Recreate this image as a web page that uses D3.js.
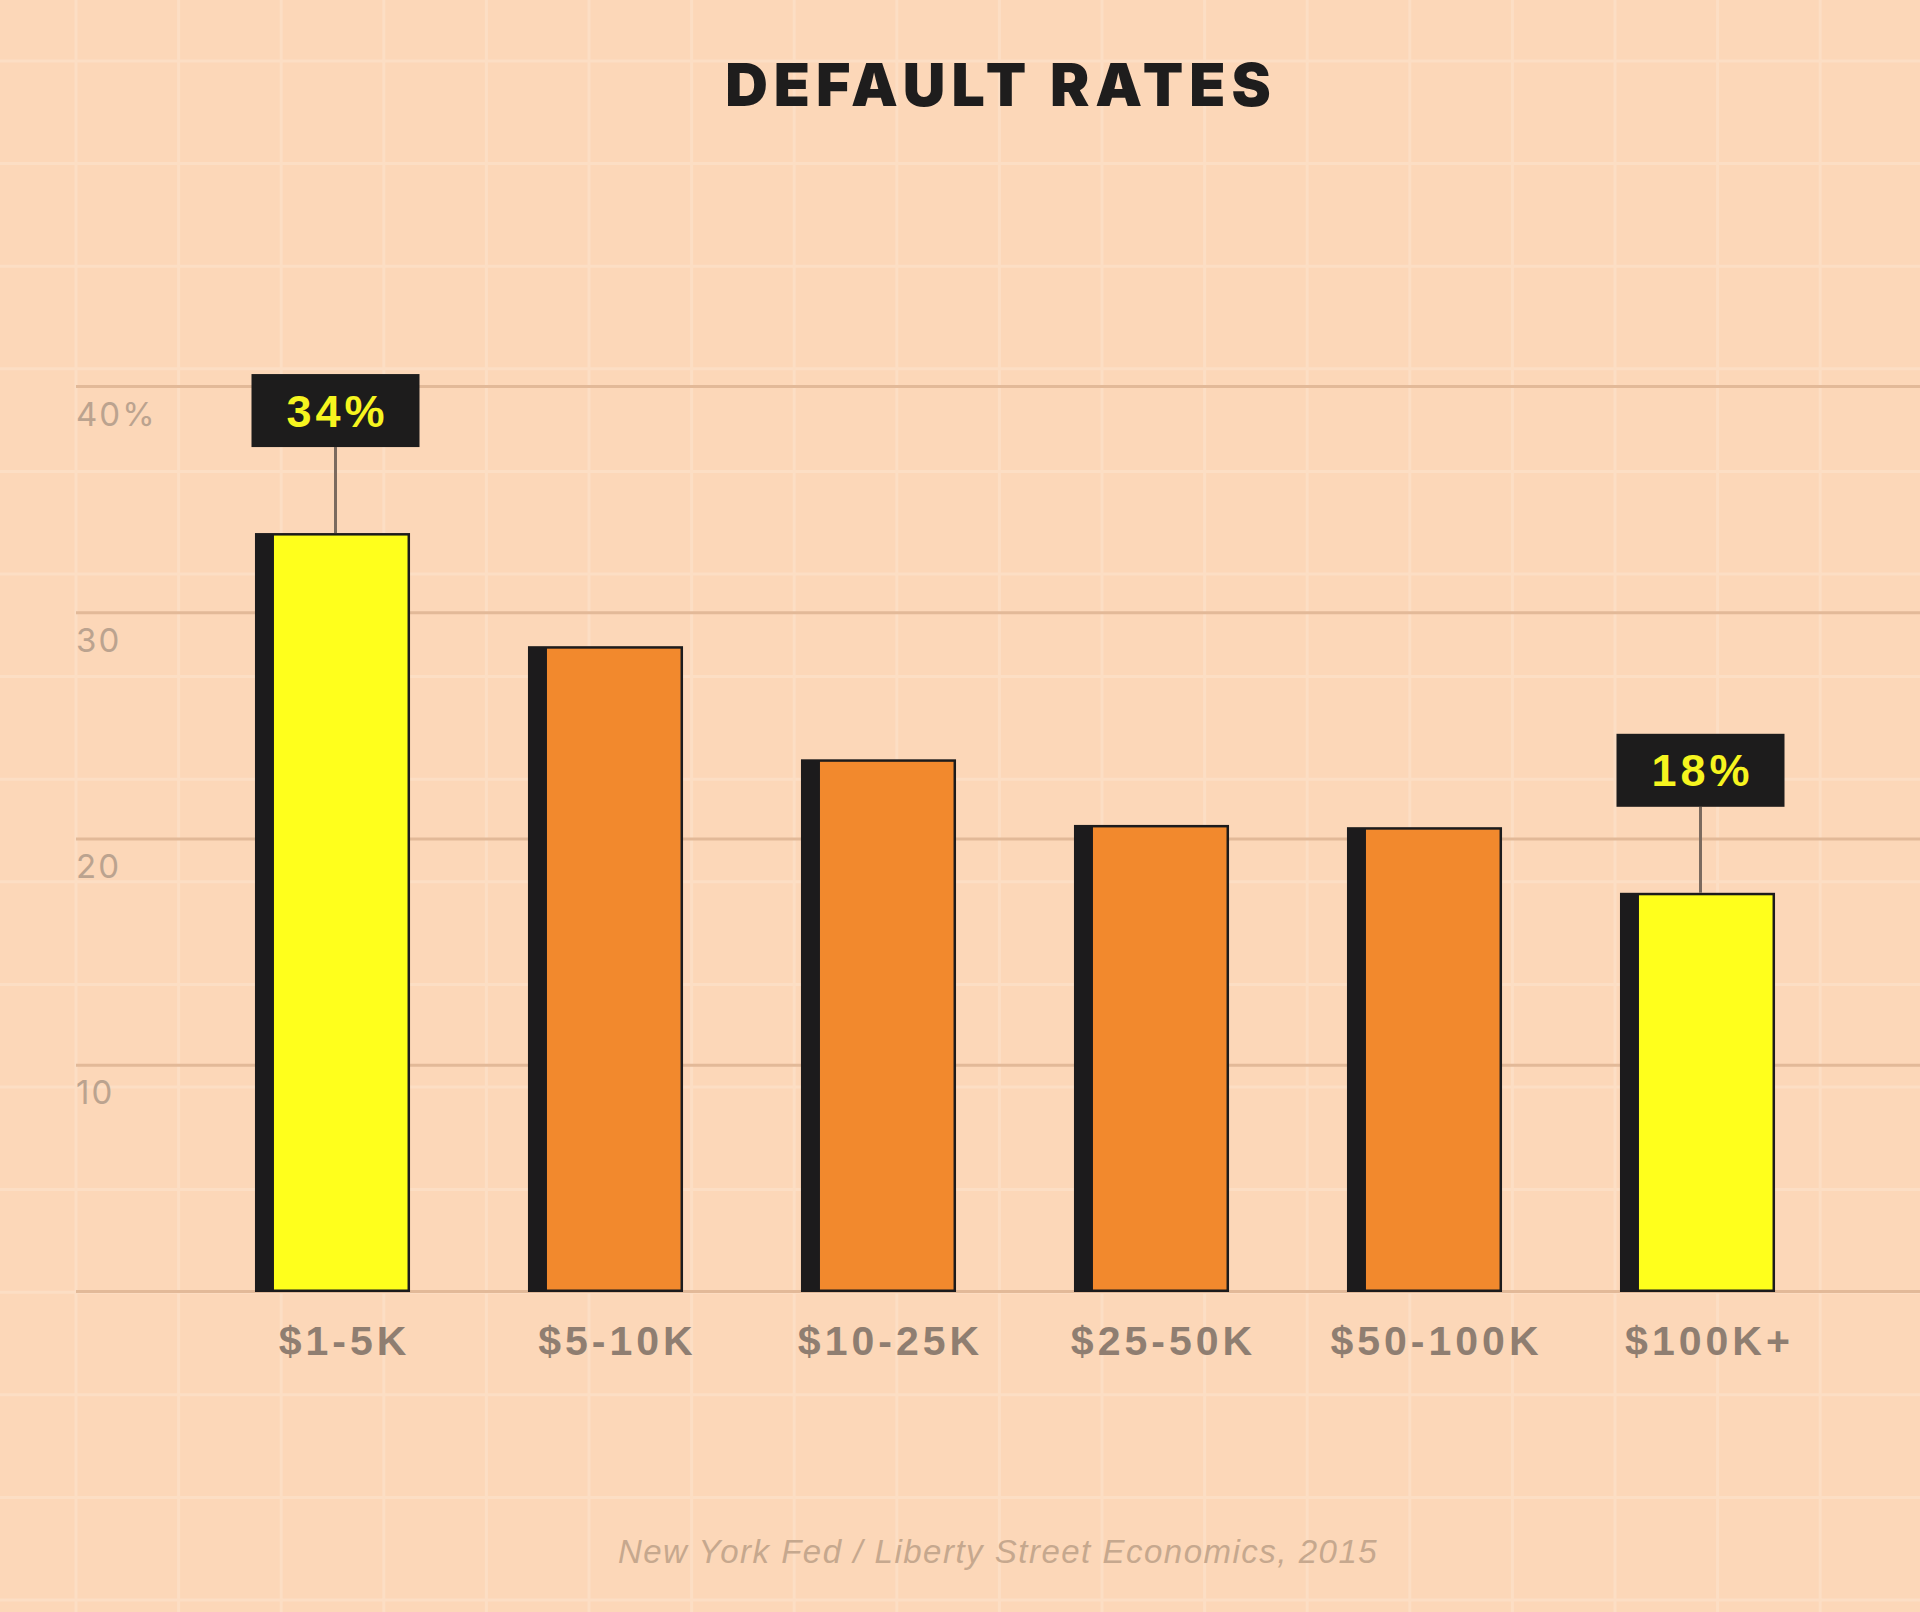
<!DOCTYPE html>
<html>
<head>
<meta charset="utf-8">
<script src="https://cdn.jsdelivr.net/npm/d3@7"></script>
<style>
  html, body { margin: 0; padding: 0; background: #fcd7b8; }
  svg { display: block; }
</style>
</head>
<body>
<div id="chart"></div>
<script>
// data
const categories = ["$1-5K", "$5-10K", "$10-25K", "$25-50K", "$50-100K", "$100K+"];
const defaultRates = [33.5, 28.5, 23.5, 20.6, 20.5, 17.6];
const highlighted = [true, false, false, false, false, true];
const calloutLabels = ["34%", null, null, null, null, "18%"];
const yTicks = [0, 10, 20, 30, 40];
const yTickLabels = ["", "10", "20", "30", "40%"];

const width = 1920,
    height = 1612,
    margin = ({ top: 386, right: 0, bottom: 321, left: 76 });

const data = categories.map((c, i) => ({
  cat: c, value: defaultRates[i], hi: highlighted[i], label: calloutLabels[i]
}));

const svg = d3.select("#chart")
  .append("svg")
  .attr("width", width)
  .attr("height", height);

// peach background with faint graph-paper grid
svg.append("rect")
  .attr("width", width)
  .attr("height", height)
  .attr("fill", "#fcd7b8");

const paper = svg.append("g")
  .attr("stroke", "#fde4cf")
  .attr("stroke-width", 3)
  .attr("opacity", 0.55);

paper.selectAll("line.v")
  .data(d3.range(76 - 102.6, width, 102.6))
  .join("line")
  .attr("class", "v")
  .attr("x1", d => d).attr("x2", d => d)
  .attr("y1", 0).attr("y2", height);

paper.selectAll("line.h")
  .data(d3.range(61 - 102.6, height, 102.6))
  .join("line")
  .attr("class", "h")
  .attr("y1", d => d).attr("y2", d => d)
  .attr("x1", 0).attr("x2", width);

// scales
let x = d3.scaleBand()
  .domain(categories)
  .range([196, 1834])
  .paddingInner(0.432)
  .paddingOuter(0.216);

let y = d3.scaleLinear()
  .domain([0, 40])
  .range([height - margin.bottom, margin.top]);

// horizontal grid + labels below each line
const yAxis = svg.append("g")
  .attr("class", "y-axis")
  .attr("transform", `translate(${margin.left},0)`)
  .call(d3.axisLeft(y)
    .tickValues(yTicks)
    .tickSize(-(width - margin.left))
    .tickFormat((d, i) => yTickLabels[i]));

yAxis.select(".domain").remove();
yAxis.selectAll(".tick line")
  .attr("stroke", "#e2b998")
  .attr("stroke-width", 3);
yAxis.selectAll(".tick text")
  .attr("x", 0)
  .attr("dy", 39)
  .attr("text-anchor", "start")
  .attr("fill", "#bba38f")
  .style("font-family", "Inter, 'Liberation Sans', sans-serif")
  .style("font-size", "33px")
  .style("letter-spacing", "2px");

const shadow = 19; // dark strip on the left side of every bar
const bw = x.bandwidth();

const bars = svg.append("g")
  .selectAll("g")
  .data(data)
  .join("g");

bars.append("rect")
  .attr("x", d => x(d.cat))
  .attr("y", d => y(d.value))
  .attr("width", bw)
  .attr("height", d => y(0) - y(d.value) + 1)
  .attr("fill", "#1c1b1c");

bars.append("rect")
  .attr("x", d => x(d.cat) + shadow)
  .attr("y", d => y(d.value) + 2.5)
  .attr("width", bw - shadow - 2.5)
  .attr("height", d => y(0) - y(d.value) - 4)
  .attr("fill", d => d.hi ? "#ffff1c" : "#f2892d");

// category labels, centred on the coloured face of the bar
svg.append("g")
  .selectAll("text")
  .data(data)
  .join("text")
  .attr("x", d => x(d.cat) + shadow + (bw - shadow) / 2 + 2.5)
  .attr("y", y(0) + 64)
  .attr("text-anchor", "middle")
  .attr("fill", "#8f7e71")
  .style("font-family", "'Liberation Sans', Arial, sans-serif")
  .style("font-weight", "bold")
  .style("font-size", "41px")
  .style("letter-spacing", "4px")
  .text(d => d.cat);

// callouts for the highlighted bars
const callouts = svg.append("g")
  .selectAll("g")
  .data(data.filter(d => d.label))
  .join("g");

const boxW = 168, boxH = 73, stem = 86;
const cx = d => x(d.cat) + bw / 2 + 3;

callouts.append("line")
  .attr("x1", cx).attr("x2", cx)
  .attr("y1", d => y(d.value) - stem)
  .attr("y2", d => y(d.value))
  .attr("stroke", "#7b6a5e")
  .attr("stroke-width", 3);

callouts.append("rect")
  .attr("x", d => cx(d) - boxW / 2)
  .attr("y", d => y(d.value) - stem - boxH)
  .attr("width", boxW)
  .attr("height", boxH)
  .attr("fill", "#1d1c1c");

callouts.append("text")
  .attr("x", d => cx(d) + 2)
  .attr("y", d => y(d.value) - stem - boxH / 2 + 16)
  .attr("text-anchor", "middle")
  .attr("fill", "#f6f51f")
  .style("font-family", "'Liberation Sans', Arial, sans-serif")
  .style("font-weight", "bold")
  .style("font-size", "45px")
  .style("letter-spacing", "4px")
  .text(d => d.label);

// title
svg.append("text")
  .attr("x", 998 + 3)
  .attr("y", 106)
  .attr("text-anchor", "middle")
  .attr("fill", "#1e1d1d")
  .style("font-family", "Inter, 'Liberation Sans', sans-serif")
  .style("font-weight", 900)
  .style("font-size", "59px")
  .style("letter-spacing", "6px")
  .text("DEFAULT RATES");

// source
svg.append("text")
  .attr("x", 997 + 1)
  .attr("y", 1563)
  .attr("text-anchor", "middle")
  .attr("fill", "#c6a88e")
  .style("font-family", "'Liberation Sans', Arial, sans-serif")
  .style("font-style", "italic")
  .style("font-size", "33px")
  .style("letter-spacing", "1.5px")
  .text("New York Fed / Liberty Street Economics, 2015");
</script>
</body>
</html>
